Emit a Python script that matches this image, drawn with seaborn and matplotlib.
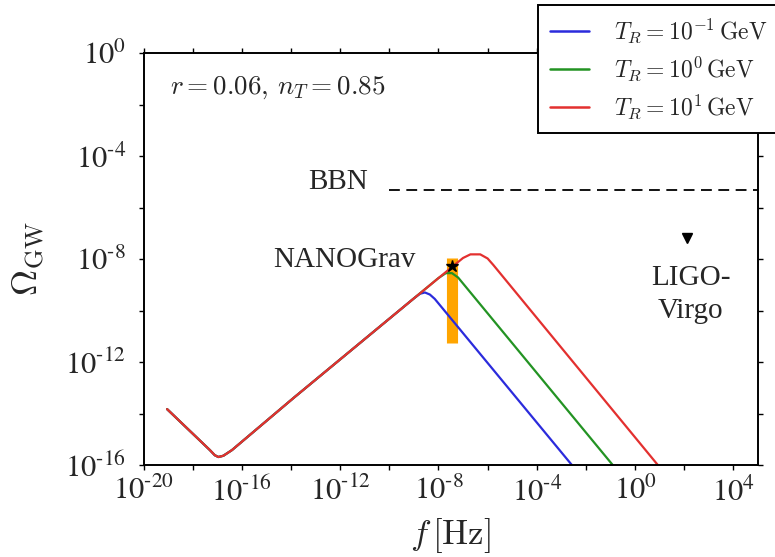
import numpy as np
import pandas as pd
import matplotlib
matplotlib.use("Agg")
import matplotlib.pyplot as plt
from matplotlib.lines import Line2D
from matplotlib.font_manager import FontProperties
from matplotlib.ticker import FixedLocator, NullFormatter
import seaborn as sns

# ---- data (log10 f [Hz], log10 Omega_GW) ----
shared_logf = [-19.04, -17.3, -17.1, -16.95, -16.75, -16.4, -13.9, -9.0]
shared_logO = [-13.83, -15.42, -15.62, -15.69, -15.64, -15.42, -13.40, -9.53]

blue_logf = [-8.75, -8.55, -8.35, -8.15, -2.4]
blue_logO = [-9.35, -9.30, -9.38, -9.55, -16.20]

green_logf = [-8.0, -7.7, -7.45, -7.2, -0.6]
green_logO = [-8.74, -8.55, -8.55, -8.72, -16.36]

red_logf = [-7.45, -7.0, -6.7, -6.3, -6.0, -5.77, 1.2]
red_logO = [-8.31, -7.96, -7.82, -7.82, -7.98, -8.23, -16.32]

series_labels = [r"$T_R=10^{-1}\,\mathrm{GeV}$",
                 r"$T_R=10^{0}\,\mathrm{GeV}$",
                 r"$T_R=10^{1}\,\mathrm{GeV}$"]
series_colors = ["#2b2bdc", "#239323", "#e3302f"]

bbn_logO = -5.32
bbn_logf_range = [-10.0, 5.0]
nano_logf = -7.45
nano_bar_logO = [-11.26, -7.96]
nano_star_logO = -8.27
ligo_logf = 2.1
ligo_logO = -7.18

xticks_major = [-20, -16, -12, -8, -4, 0, 4]
xticks_minor = [-18, -14, -10, -6, -2, 2]
yticks_major = [-16, -12, -8, -4, 0]
yticks_minor = [-14, -10, -6, -2]


def tick_label(v):
    if v < 0:
        return r"$10^{\text{-}%d}$" % (-v)
    return r"$10^{%d}$" % v


# ---- build long-form table ----
rows = []
for lab, tf, to in zip(series_labels,
                       [blue_logf, green_logf, red_logf],
                       [blue_logO, green_logO, red_logO]):
    lf = shared_logf + tf
    lo = shared_logO + to
    for i, (a, b) in enumerate(zip(lf, lo)):
        rows.append({"T_R": lab, "order": i, "f": 10.0 ** a, "omega": 10.0 ** b})
df = pd.DataFrame(rows)

sns.set_theme(style="ticks")
plt.rcParams["font.family"] = ["Liberation Serif", "DejaVu Serif"]
plt.rcParams["mathtext.fontset"] = "cm"
plt.rcParams["axes.linewidth"] = 1.4

fig = plt.figure(figsize=(7.75, 5.57), dpi=100)
ax = fig.add_axes([143.5 / 775, 1 - 465 / 557, (758 - 143.5) / 775, (465 - 53) / 557])

sns.lineplot(data=df, x="f", y="omega", hue="T_R", hue_order=series_labels,
             palette=series_colors, estimator=None, sort=False,
             lw=1.6, legend=False, ax=ax)

ax.set_xscale("log")
ax.set_yscale("log")
ax.set_xlim(1e-20, 1e5)
ax.set_ylim(1e-16, 1e0)

# BBN
ax.plot([10.0 ** v for v in bbn_logf_range], [10.0 ** bbn_logO] * 2,
        color="black", lw=1.3, linestyle=(0, (6, 3.6)))
ax.text(10.0 ** -10.86, 10.0 ** -5.0, "BBN", ha="right", va="center", fontsize=21)

# NANOGrav
ax.vlines(10.0 ** nano_logf, 10.0 ** nano_bar_logO[0], 10.0 ** nano_bar_logO[1],
          color="#ffa500", lw=8, zorder=1)
ax.plot([10.0 ** nano_logf], [10.0 ** nano_star_logO], marker="*", color="black",
        markersize=9, linestyle="none", zorder=5)
ax.text(10.0 ** -8.94, 10.0 ** -8.04, "NANOGrav", ha="right", va="center", fontsize=21)

# LIGO-Virgo
ax.plot([10.0 ** ligo_logf], [10.0 ** ligo_logO], marker="v", color="black",
        markersize=7, linestyle="none")
ax.text(10.0 ** 2.26, 10.0 ** -9.36, "LIGO-\nVirgo", ha="center", va="center",
        fontsize=21, linespacing=1.35)

# parameters annotation
ax.text(0.043, 0.915, r"$r=0.06,\,n_T=0.85$", transform=ax.transAxes,
        ha="left", va="center", fontsize=19.5, math_fontfamily="cm")

# ticks
ax.xaxis.set_major_locator(FixedLocator([10.0 ** v for v in xticks_major]))
ax.xaxis.set_minor_locator(FixedLocator([10.0 ** v for v in xticks_minor]))
ax.yaxis.set_major_locator(FixedLocator([10.0 ** v for v in yticks_major]))
ax.yaxis.set_minor_locator(FixedLocator([10.0 ** v for v in yticks_minor]))
ax.xaxis.set_minor_formatter(NullFormatter())
ax.yaxis.set_minor_formatter(NullFormatter())
ax.set_xticks([10.0 ** v for v in xticks_major],
              [tick_label(v) for v in xticks_major],
              math_fontfamily="stix", fontsize=22)
ax.set_yticks([10.0 ** v for v in yticks_major],
              [tick_label(v) for v in yticks_major],
              math_fontfamily="stix", fontsize=22)
ax.tick_params(which="both", direction="out", top=True, right=True,
               length=3.5, width=1.0, color="black")
ax.tick_params(axis="x", which="major", pad=5)
ax.tick_params(axis="y", which="major", pad=9)
for s in ax.spines.values():
    s.set_visible(True)
    s.set_color("black")

ax.set_xlabel(r"$f\,[\mathrm{Hz}]$", fontsize=25, math_fontfamily="cm", labelpad=6)
ax.set_ylabel(r"$\Omega_{\rm GW}$", fontsize=26, math_fontfamily="cm", labelpad=13)

# legend
handles = [Line2D([0], [0], color=c, lw=1.8) for c in series_colors]
leg = ax.legend(handles, series_labels, loc="upper left",
                bbox_to_anchor=(538 / 775, 1 - 5 / 557), bbox_transform=fig.transFigure,
                borderaxespad=0, frameon=True, fancybox=False, framealpha=1,
                edgecolor="black", prop=FontProperties(size=17, math_fontfamily="cm"),
                handlelength=1.65, handletextpad=1.05, labelspacing=0.4, borderpad=0.5)
leg.get_frame().set_linewidth(1.4)

fig.savefig("out.png", dpi=100)
